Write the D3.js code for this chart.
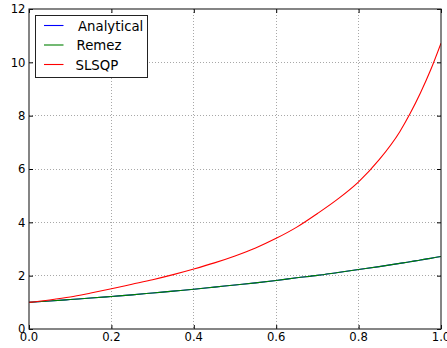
<!DOCTYPE html>
<html>
<head>
<meta charset="utf-8">
<script src="https://cdn.jsdelivr.net/npm/d3@7"></script>
<style>
  html, body { margin: 0; padding: 0; background: #fff; }
  svg { display: block; }
  text { font-family: "DejaVu Sans", sans-serif; fill: #000; }
</style>
</head>
<body>
<svg id="chart" width="447" height="348"></svg>
<script>
// ---- data ----
const xValues = [0, 0.05, 0.1, 0.15, 0.2, 0.25, 0.3, 0.35, 0.4, 0.45, 0.5, 0.55, 0.6, 0.65, 0.7, 0.75, 0.8, 0.85, 0.9, 0.925, 0.95, 0.975, 1.0];
const analytical = [1.00, 1.05, 1.105, 1.16, 1.22, 1.28, 1.35, 1.42, 1.49, 1.57, 1.65, 1.73, 1.82, 1.92, 2.01, 2.12, 2.23, 2.34, 2.46, 2.52, 2.59, 2.65, 2.72];
const remez      = [1.00, 1.05, 1.105, 1.16, 1.22, 1.28, 1.35, 1.42, 1.49, 1.57, 1.65, 1.73, 1.82, 1.92, 2.01, 2.12, 2.23, 2.34, 2.46, 2.52, 2.59, 2.65, 2.72];
const slsqp      = [1.00, 1.09, 1.20, 1.35, 1.51, 1.68, 1.85, 2.04, 2.25, 2.48, 2.74, 3.04, 3.40, 3.82, 4.33, 4.88, 5.52, 6.35, 7.40, 8.08, 8.85, 9.72, 10.72];
const seriesNames = ["Analytical", "Remez", "SLSQP"];
const xTicks = [0, 0.2, 0.4, 0.6, 0.8, 1.0];
const xTickLabels = ["0.0", "0.2", "0.4", "0.6", "0.8", "1.0"];
const yTicks = [0, 2, 4, 6, 8, 10, 12];
const yTickLabels = ["0", "2", "4", "6", "8", "10", "12"];

// ---- layout ----
const W = 447, H = 348;
const m = { left: 29, right: 6, top: 9, bottom: 19 };
const colors = ["#0000ff", "#008000", "#ff0000"];
const seriesValues = [analytical, remez, slsqp];

const svg = d3.select("#chart");
const x = d3.scaleLinear().domain([0, 1]).range([m.left, W - m.right]);
const y = d3.scaleLinear().domain([0, 12]).range([H - m.bottom, m.top]);

// grid
const grid = svg.append("g");
grid.selectAll(".vg").data(xTicks.slice(1, -1)).join("line")
  .attr("x1", d => x(d)).attr("x2", d => x(d))
  .attr("y1", y(12)).attr("y2", y(0))
  .attr("stroke", "#a8a8a8").attr("stroke-width", 1).attr("stroke-dasharray", "1,2")
  .attr("shape-rendering", "crispEdges");
grid.selectAll(".hg").data(yTicks.slice(1, -1)).join("line")
  .attr("y1", d => y(d)).attr("y2", d => y(d))
  .attr("x1", x(0)).attr("x2", x(1))
  .attr("stroke", "#a8a8a8").attr("stroke-width", 1).attr("stroke-dasharray", "1,2")
  .attr("shape-rendering", "crispEdges");

// lines
const line = d3.line().curve(d3.curveMonotoneX);
svg.append("clipPath").attr("id", "clip").append("rect")
  .attr("x", x(0)).attr("y", y(12)).attr("width", x(1) - x(0)).attr("height", y(0) - y(12));
const lines = svg.append("g").attr("clip-path", "url(#clip)");
seriesValues.forEach((vals, i) => {
  lines.append("path")
    .datum(xValues.map((xv, j) => [x(xv), y(vals[j])]))
    .attr("d", line)
    .attr("fill", "none")
    .attr("stroke", colors[i])
    .attr("stroke-width", 1.1);
});

// axes with inward ticks (classic matplotlib style)
const tickLen = 4;
const xAxisB = d3.axisBottom(x).tickValues(xTicks).tickSizeInner(-tickLen).tickSizeOuter(0).tickFormat("");
const xAxisT = d3.axisTop(x).tickValues(xTicks).tickSizeInner(-tickLen).tickSizeOuter(0).tickFormat("");
const yAxisL = d3.axisLeft(y).tickValues(yTicks).tickSizeInner(-tickLen).tickSizeOuter(0).tickFormat("");
const yAxisR = d3.axisRight(y).tickValues(yTicks).tickSizeInner(-tickLen).tickSizeOuter(0).tickFormat("");
[[xAxisB, `translate(0,${y(0)})`], [xAxisT, `translate(0,${y(12)})`],
 [yAxisL, `translate(${x(0)},0)`], [yAxisR, `translate(${x(1)},0)`]].forEach(([ax, tr]) => {
  const g = svg.append("g").attr("transform", tr).call(ax);
  g.select(".domain").remove();
  g.selectAll("line").attr("stroke", "#000").attr("stroke-width", 1);
});

// frame
svg.append("rect")
  .attr("x", x(0)).attr("y", y(12))
  .attr("width", x(1) - x(0)).attr("height", y(0) - y(12))
  .attr("fill", "none").attr("stroke", "#222").attr("stroke-width", 1.1);

// tick labels
svg.append("g").selectAll("text").data(xTicks).join("text")
  .attr("x", d => x(d)).attr("y", y(0) + 12)
  .attr("text-anchor", "middle").attr("font-size", 11.6)
  .text((d, i) => xTickLabels[i]);
svg.append("g").selectAll("text").data(yTicks).join("text")
  .attr("x", x(0) - 3.5).attr("y", d => y(d) + 4.2)
  .attr("text-anchor", "end").attr("font-size", 11.6)
  .text((d, i) => yTickLabels[i]);

// legend
const lg = svg.append("g");
lg.append("rect").attr("x", 35.5).attr("y", 15.5).attr("width", 112).attr("height", 62)
  .attr("fill", "#fff").attr("stroke", "#222").attr("stroke-width", 1);
const textX = [78, 76.5, 75.5];
seriesNames.forEach((name, i) => {
  const cy = 25.5 + i * 19.5;
  lg.append("line").attr("x1", 44).attr("x2", 63.5).attr("y1", cy).attr("y2", cy)
    .attr("stroke", colors[i]).attr("stroke-width", 1.1);
  lg.append("text").attr("x", textX[i]).attr("y", cy + 5).attr("font-size", 13.3).text(name);
});
</script>
</body>
</html>
